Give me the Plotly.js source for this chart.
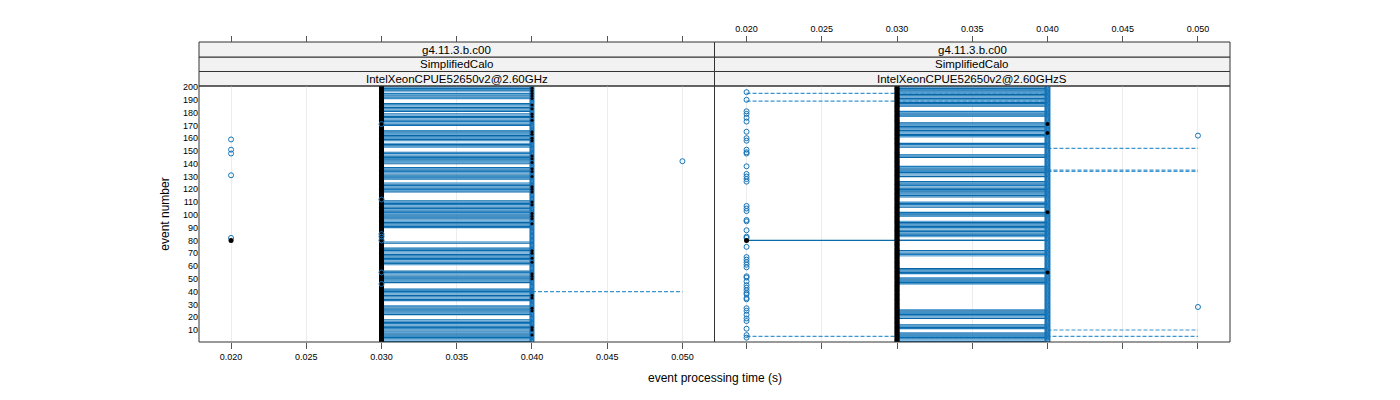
<!DOCTYPE html>
<html>
<head>
<meta charset="utf-8">
<script src="https://cdn.plot.ly/plotly-3.0.1.min.js"></script>
<style>
  html, body { margin: 0; padding: 0; background: #fff; }
  #chart { width: 1400px; height: 400px; }
</style>
</head>
<body>
<div id="chart"></div>
<script>
// axis values
const eventNumbers = Array.from({length: 200}, (_, i) => i + 1);
const xTicks = [0.020, 0.025, 0.030, 0.035, 0.040, 0.045, 0.050];
const yTicks = [10, 20, 30, 40, 50, 60, 70, 80, 90, 100, 110, 120, 130, 140, 150, 160, 170, 180, 190, 200];

// strip labels
const stripRelease = 'g4.11.3.b.c00';
const stripTest = 'SimplifiedCalo';
const panelHosts = ['IntelXeonCPUE52650v2@2.60GHz', 'IntelXeonCPUE52650v2@2.60GHzS'];

// most events: fast run at 0.030 s, slow run at 0.040 s
const baseTime = 0.030;
const slowTime = 0.040;

// --- panel 1 (GHz) ---
const p1NoSegment = [196, 188, 189, 190, 180, 167, 168, 169, 157, 150, 151, 152, 138, 139, 126, 127,
  112, 113, 114, 115, 116, 117, 80, 81, 82, 83, 84, 85, 86, 87, 88, 89, 75, 76, 77,
  57, 58, 59, 60, 43, 44, 45, 46, 30, 31, 32, 19, 20, 21];
const p1BlackSlow = [199, 197, 195, 193, 191, 186, 183, 179, 177, 174, 165, 163, 160, 158, 146, 144, 141,
  136, 134, 130, 122, 120, 118, 110, 108, 101, 99, 97, 93, 72, 70, 66, 63, 54, 52, 50, 37, 35, 27, 25, 12, 10, 6];
const p1CircleEvents = [159, 151, 148, 131, 82, 171, 112, 85, 83, 80, 55, 46, 142];
const p1CircleTimes = [0.020, 0.020, 0.020, 0.020, 0.020, 0.030, 0.030, 0.030, 0.030, 0.030, 0.030, 0.030, 0.050];
const p1DotEvents = [80];
const p1DotTimes = [0.020];
const p1SolidEvents = [];
const p1SolidFrom = [];
const p1SolidTo = [];
const p1DashEvents = [40];
const p1DashFrom = [0.040];
const p1DashTo = [0.050];

// --- panel 2 (GHzS) ---
const p2NoSegment = [182, 183, 184, 173, 174, 175, 176, 157, 158, 159, 160, 148, 149, 150, 151, 152,
  139, 140, 141, 142, 143, 144, 127, 128, 129, 111, 112, 113, 103, 104, 105, 96, 97, 98,
  79, 81, 82, 73, 74, 75, 76, 77, 78, 59, 60, 61, 62, 63, 64, 65, 66, 67, 52, 53,
  27, 28, 29, 30, 31, 32, 33, 34, 35, 36, 37, 38, 39, 40, 41, 42, 43, 44, 45, 15, 16, 17, 18, 9, 10];
const p2BlackSlow = [171, 164, 102, 55];
const p2CircleEvents = [196, 190, 181, 179, 176, 173, 165, 160, 158, 151, 149, 148, 138, 132, 130, 128,
  126, 107, 105, 103, 96, 95, 88, 83, 82, 75, 67, 65, 63, 61, 59, 52, 51, 48, 45, 43, 41, 39, 38,
  35, 34, 27, 25, 22, 19, 17, 11, 6, 4, 162, 28];
const p2CircleTimes = [0.020, 0.020, 0.020, 0.020, 0.020, 0.020, 0.020, 0.020, 0.020, 0.020, 0.020, 0.020,
  0.020, 0.020, 0.020, 0.020, 0.020, 0.020, 0.020, 0.020, 0.020, 0.020, 0.020, 0.020, 0.020, 0.020,
  0.020, 0.020, 0.020, 0.020, 0.020, 0.020, 0.020, 0.020, 0.020, 0.020, 0.020, 0.020, 0.020, 0.020,
  0.020, 0.020, 0.020, 0.020, 0.020, 0.020, 0.020, 0.020, 0.020, 0.050, 0.050];
const p2DotEvents = [80];
const p2DotTimes = [0.020];
const p2SolidEvents = [80];
const p2SolidFrom = [0.020];
const p2SolidTo = [0.040];
const p2DashEvents = [195, 189, 5, 152, 135, 134, 10];
const p2DashFrom = [0.020, 0.020, 0.020, 0.040, 0.040, 0.040, 0.040];
const p2DashTo = [0.040, 0.040, 0.050, 0.050, 0.050, 0.050, 0.050];

const BLUE = '#1574b8';
const SHADES = ['#0866a6', '#0d6fb0', '#3a8ec8', '#0a6aab', '#1b7abb', '#62a6d5'];

function segTrace(evts, x0s, x1s, xa, color, dash) {
    const x = [], y = [];
    evts.forEach((e, i) => { x.push(x0s[i], x1s[i], null); y.push(e, e, null); });
    return {x: x, y: y, xaxis: xa, yaxis: 'y', mode: 'lines', hoverinfo: 'skip',
            line: {color: color, width: 1.2, dash: dash || 'solid'}, showlegend: false};
}

function panelTraces(noSeg, blackSlow, circE, circT, dotE, dotT, solE, solF, solT, dashE, dashF, dashT, xa, slowSize) {
    const traces = [];
    const segEvents = eventNumbers.filter(e => noSeg.indexOf(e) < 0);
    // shade the overlapping run lines
    SHADES.forEach((c, k) => {
        const ev = segEvents.filter((e, i) => (i * 5) % SHADES.length === k);
        traces.push(segTrace(ev, ev.map(() => baseTime), ev.map(() => slowTime), xa, c));
    });
    traces.push(segTrace(solE, solF, solT, xa, '#0a6cab'));
    traces.push(segTrace(dashE, dashF, dashT, xa, '#3d95d0', '4px,2px'));
    // black points at the base time
    traces.push({x: eventNumbers.map(() => baseTime), y: eventNumbers, xaxis: xa, yaxis: 'y',
        mode: 'markers', marker: {symbol: 'circle', size: 5, color: '#000'}, hoverinfo: 'skip', showlegend: false});
    // open circles at the slow time
    traces.push({x: eventNumbers.map(() => slowTime), y: eventNumbers, xaxis: xa, yaxis: 'y',
        mode: 'markers', marker: {symbol: 'circle-open', size: slowSize, color: BLUE, line: {width: 1}},
        hoverinfo: 'skip', showlegend: false});
    traces.push({x: blackSlow.map(() => slowTime), y: blackSlow, xaxis: xa, yaxis: 'y',
        mode: 'markers', marker: {symbol: 'circle', size: slowSize - 1, color: '#000'}, hoverinfo: 'skip', showlegend: false});
    traces.push({x: circT, y: circE, xaxis: xa, yaxis: 'y',
        mode: 'markers', marker: {symbol: 'circle-open', size: 5, color: BLUE, line: {width: 1}},
        hoverinfo: 'skip', showlegend: false});
    traces.push({x: dotT, y: dotE, xaxis: xa, yaxis: 'y',
        mode: 'markers', marker: {symbol: 'circle', size: 5, color: '#000'}, hoverinfo: 'skip', showlegend: false});
    return traces;
}

const data = [].concat(
    panelTraces(p1NoSegment, p1BlackSlow, p1CircleEvents, p1CircleTimes, p1DotEvents, p1DotTimes,
                p1SolidEvents, p1SolidFrom, p1SolidTo, p1DashEvents, p1DashFrom, p1DashTo, 'x', 4),
    panelTraces(p2NoSegment, p2BlackSlow, p2CircleEvents, p2CircleTimes, p2DotEvents, p2DotTimes,
                p2SolidEvents, p2SolidFrom, p2SolidTo, p2DashEvents, p2DashFrom, p2DashTo, 'x2', 5),
    [{x: [], y: [], xaxis: 'x3', yaxis: 'y', showlegend: false},
     {x: [], y: [], xaxis: 'x4', yaxis: 'y', showlegend: false}]
);

const FONT = 'Liberation Sans, Arial, sans-serif';
const xRange = [0.01787, 0.05213];
const tickText = xTicks.map(v => v.toFixed(3));
const PLOT_FRAC = 256 / 300;

function xAxis(domain, labels, extra) {
    return Object.assign({
        domain: domain, range: xRange, tickvals: xTicks, ticktext: tickText,
        showticklabels: labels, ticks: 'outside', ticklen: 6, tickcolor: '#555', tickwidth: 1,
        showgrid: true, gridcolor: '#ececec', gridwidth: 1, zeroline: false, showline: false,
        tickfont: {family: FONT, size: 9, color: '#000'}, fixedrange: true
    }, extra);
}

// strip boxes and labels
const stripRows = [[0.8533, 0.9017], [0.9017, 0.95], [0.95, 1.0]];
const shapes = [], annotations = [];
['x', 'x2'].forEach((xa, p) => {
    const labels = [panelHosts[p], stripTest, stripRelease];
    stripRows.forEach((r, k) => {
        shapes.push({type: 'rect', xref: xa + ' domain', yref: 'paper', x0: 0, x1: 1, y0: r[0], y1: r[1],
            fillcolor: '#f2f2f2', line: {color: '#333', width: 1}, layer: 'below'});
        annotations.push({xref: xa + ' domain', yref: 'paper', x: 0.5, y: (r[0] + r[1]) / 2,
            text: labels[k], showarrow: false, xanchor: 'center', yanchor: 'middle',
            font: {family: FONT, size: 11.5, color: '#000'}});
    });
    shapes.push({type: 'rect', xref: xa + ' domain', yref: 'y domain', x0: 0, x1: 1, y0: 0, y1: 1,
        line: {color: '#333', width: 1}, layer: 'above'});
});
annotations.push({xref: 'paper', yref: 'paper', x: 0.5, y: -0.12, text: 'event processing time (s)',
    showarrow: false, xanchor: 'center', yanchor: 'middle', font: {family: FONT, size: 12, color: '#000'}});

const layout = {
    width: 1400, height: 400,
    margin: {l: 199, r: 170, t: 42, b: 58, pad: 0},
    paper_bgcolor: '#fff', plot_bgcolor: 'rgba(0,0,0,0)',
    showlegend: false,
    font: {family: FONT, color: '#000'},
    xaxis: xAxis([0, 0.5], true, {anchor: 'y'}),
    xaxis2: xAxis([0.5, 1], false, {anchor: 'y'}),
    xaxis3: xAxis([0, 0.5], false, {overlaying: 'x', anchor: 'free', position: 1, side: 'top', showgrid: false}),
    xaxis4: xAxis([0.5, 1], true, {overlaying: 'x2', anchor: 'free', position: 1, side: 'top', showgrid: false}),
    yaxis: {
        domain: [0, PLOT_FRAC], range: [0.6, 200.8], tickvals: yTicks, ticks: '',
        showgrid: false, zeroline: false, showline: false, fixedrange: true,
        tickfont: {family: FONT, size: 9, color: '#000'},
        title: {text: 'event number', font: {family: FONT, size: 12, color: '#000'}, standoff: 10}
    },
    shapes: shapes,
    annotations: annotations
};

Plotly.newPlot('chart', data, layout, {staticPlot: true, displayModeBar: false});
</script>
</body>
</html>
